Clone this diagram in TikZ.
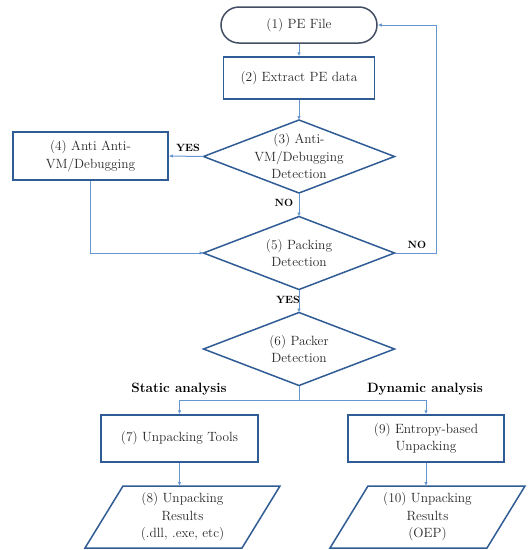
\documentclass[tikz,border=0pt]{standalone}
\usetikzlibrary{arrows.meta,calc}
\definecolor{boxblue}{HTML}{2F5C94}
\definecolor{termgray}{HTML}{434E62}
\definecolor{linkblue}{HTML}{6596D2}
\definecolor{inkgray}{HTML}{262626}
\begin{document}
\begin{tikzpicture}[x=1pt,y=-1pt,
  every node/.style={text=inkgray,font=\fontsize{13.4}{17.5}\selectfont,align=center},
  procbox/.style={draw=boxblue,line width=1.5pt,inner sep=0pt},
  termbox/.style={draw=termgray,line width=1.5pt,rounded corners=18pt,inner sep=0pt,
    minimum width=156pt,minimum height=36pt},
  decide/.style={draw=boxblue,line width=1.5pt},
  link/.style={draw=linkblue,line width=1pt,-{Latex[length=4pt,width=3.5pt]}},
  plain/.style={draw=linkblue,line width=1pt},
  tag/.style={font=\fontsize{10.5}{12}\selectfont\bfseries,text=black},
  head/.style={font=\fontsize{13.5}{16}\selectfont\bfseries,text=black}]
\useasboundingbox (0,0) rectangle (532,550);

% process boxes
\node[termbox] (n1) at (299,25) {(1) PE File};
\node[procbox,minimum width=151pt,minimum height=42pt] (n2) at (299,78) {(2) Extract PE data};
\node[procbox,minimum width=155pt,minimum height=48pt] (n4) at (90.5,156) {(4) Anti Anti-\\VM/Debugging};
\node[procbox,minimum width=157pt,minimum height=47pt] (n7) at (179.5,438.5) {(7) Unpacking Tools};
\node[procbox,minimum width=156pt,minimum height=47pt] (n9) at (426,438.5) {(9) Entropy-based\\Unpacking};

% decisions: corner points relative to the centre
\coordinate (d3) at (299,156.5);
\coordinate (d5) at (299,253);
\coordinate (d6) at (299,349);
\foreach \d in {d3,d5,d6}{
  \coordinate (\d n) at ($(\d)+(0,-36.5)$);
  \coordinate (\d s) at ($(\d)+(0,36.5)$);
  \coordinate (\d w) at ($(\d)+(-95.5,0)$);
  \coordinate (\d e) at ($(\d)+(95.5,0)$);
  \draw[decide] (\d n) -- (\d e) -- (\d s) -- (\d w) -- cycle;
}
\node (t3) at (d3) {(3) Anti-\\VM/Debugging\\Detection};
\node (t5) at (d5) {(5) Packing\\Detection};
\node (t6) at (d6) {(6) Packer\\Detection};

% result parallelograms
\node (p8) at (182.5,517) {(8) Unpacking\\Results\\(.dll, .exe, etc)};
\node (p10) at (427.5,517) {(10) Unpacking\\Results\\(OEP)};
\foreach \p in {p8,p10}{
  \coordinate (\p n) at ($(\p)+(0,-31)$);
  \draw[decide] ($(\p)+(-59.5,-31)$) -- ($(\p)+(97.5,-31)$)
    -- ($(\p)+(59.5,31)$) -- ($(\p)+(-97.5,31)$) -- cycle;
}

% connectors
\draw[link] (n1) -- (n2);
\draw[link] (n2) -- (d3n);
\draw[link] (d3w) -- (n4.east);
\draw[link] (d3s) -- (d5n);
\draw[link] (n4.south) |- (d5w);
\draw[link] (d5e) -- ++(42,0) coordinate (loop) |- (n1.east);
\draw[link] (d5s) -- (d6n);
\draw[plain] (d6s) -- ++(0,15) coordinate (split);
\draw[link] (split) -| (n7.north);
\draw[link] (split) -| (n9.north);
\draw[link] (n7.south) -- (n7.south |- p8n);
\draw[link] (n9.south) -- (n9.south |- p10n);

% branch labels
\node[tag] (yes1) at (188,148) {YES};
\node[tag] (no1) at (284,203) {NO};
\node[tag] (no2) at (417,245) {NO};
\node[tag] (yes2) at (288,300) {YES};
\node[head] (sa) at (179,389) {Static analysis};
\node[head] (da) at (425,389) {Dynamic analysis};
\end{tikzpicture}
\end{document}
